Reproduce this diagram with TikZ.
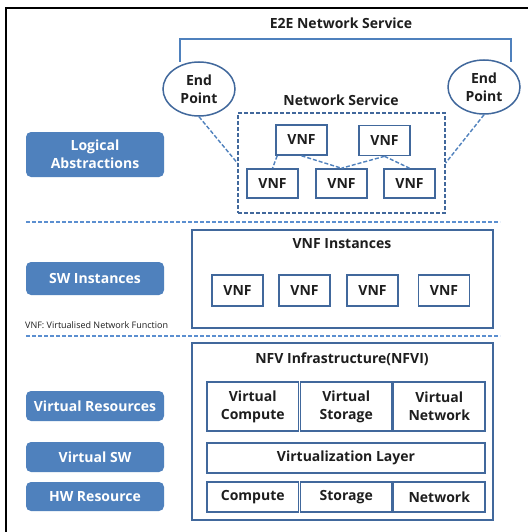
\documentclass[tikz,border=0pt]{standalone}
\usepackage{fontspec}
\setmainfont{Open Sans}
\usetikzlibrary{shapes.geometric}
\definecolor{boxline}{HTML}{41689C}
\definecolor{dashblue}{HTML}{4F81BD}
\definecolor{tagfill}{HTML}{4F81BD}
\definecolor{sepblue}{HTML}{5B8FD0}
\definecolor{inktext}{HTML}{1E1E1E}
\begin{document}
\begin{tikzpicture}[x=1pt,y=-1pt,
  lbl/.style={font=\bfseries\fontsize{14}{18}\selectfont, text=inktext, align=center},
  tag/.style={fill=tagfill, rounded corners=5pt, minimum width=138pt, inner sep=0pt,
    text=white, font=\bfseries\fontsize{14}{18}\selectfont, align=center},
  frame/.style={draw=boxline, line width=1.6pt, inner sep=0pt},
  vnfbox/.style={frame, lbl, minimum width=51pt, minimum height=30pt},
  cell/.style={frame, lbl, minimum width=91.5pt, minimum height=30pt},
  endpt/.style={ellipse, draw=boxline, line width=1.5pt, minimum width=72pt,
    minimum height=54pt, inner sep=0pt, lbl},
  dlink/.style={draw=dashblue, line width=1.4pt, dash pattern=on 4pt off 2pt},
  sepline/.style={draw=sepblue, line width=1.5pt, dash pattern=on 4pt off 2pt},
]
\useasboundingbox (0,0) rectangle (528,532);
\fill[white] (0,0) rectangle (528,532);

% outer page frame
\draw[line width=1.5pt, black] (6,532) -- (6,8) -- (528,8);

% ---------- logical abstractions ----------
\node[lbl] (e2e) at (341,23) {E2E Network Service};
\coordinate (brL) at (180,62);
\coordinate (brR) at (511,62);
\draw[draw=dashblue, line width=1.5pt] (brL) -- (brL |- 0,39) -- (brR |- 0,39) -- (brR);

\node[endpt] (lep) at (199,89) {End\\Point};
\node[endpt] (rep) at (484,87) {End\\Point};

\node[lbl] (nstitle) at (341,100) {Network Service};
\node[draw=boxline, line width=1.3pt, dash pattern=on 4pt off 2pt,
      minimum width=207pt, minimum height=100pt, inner sep=0pt] (ns) at (341.5,163) {};

\node[vnfbox] (tl) at (301.5,140) {VNF};
\node[vnfbox] (tr) at (384.5,140.5) {VNF};
\node[vnfbox, minimum height=29pt] (b1) at (272.5,183.5) {VNF};
\node[vnfbox, minimum height=29pt] (b2) at (341.5,183.5) {VNF};
\node[vnfbox, minimum height=29pt] (b3) at (409.5,183.5) {VNF};

\draw[dlink] (lep.south) -- (ns.west);
\draw[dlink] (rep.south) -- (ns.east);
\draw[dlink] (tl.south west) ++(2pt,0) -- (b1.north);
\draw[dlink] (tl.south) -- (b2.north);
\draw[dlink] (tr.south) -- (b2.north);
\draw[dlink] (tr.south) -- (b3.north);

\node[tag, minimum height=45pt] (tla) at (95,154.5) {Logical\\Abstractions};

% layer separators
\coordinate (s1a) at (26,222);  \coordinate (s1b) at (500,222);
\coordinate (s2a) at (26,336);  \coordinate (s2b) at (500,336);
\draw[sepline] (s1a) -- (s1b);
\draw[sepline] (s2a) -- (s2b);

% ---------- software instances ----------
\node[tag, minimum height=33pt] (tsw) at (95,278.5) {SW Instances};
\node[frame, minimum width=301pt, minimum height=98pt] (inst) at (342.5,279) {};
\node[lbl] (insttitle) at (342,244) {VNF Instances};
\node[vnfbox, minimum height=31pt] (i1) at (237.5,290.5) {VNF};
\node[vnfbox, minimum height=31pt] (i2) at (304.5,290.5) {VNF};
\node[vnfbox, minimum height=31pt] (i3) at (372.5,290.5) {VNF};
\node[vnfbox, minimum height=31pt] (i4) at (444,290.5) {VNF};
\node[anchor=west, inner sep=0pt, text=inktext, font=\fontsize{9}{11}\selectfont]
  (note) at (25,325) {VNF: Virtualised Network Function};

% ---------- infrastructure ----------
\node[tag, minimum height=30pt] (tvr) at (95,406) {Virtual Resources};
\node[tag, minimum height=30pt] (tvs) at (95,457) {Virtual SW};
\node[tag, minimum height=29pt] (thw) at (95,496.5) {HW Resource};

\node[frame, minimum width=301pt, minimum height=177pt] (nfvi) at (342.5,431.5) {};
\node[lbl] (nfvititle) at (342,359) {NFV Infrastructure(NFVI)};

\node[cell, minimum height=49pt] (vc) at (252.75,406.5) {Virtual\\Compute};
\node[cell, minimum height=49pt] (vs) at (346.25,406.5) {Virtual\\Storage};
\node[cell, minimum height=49pt] (vn) at (439.25,406.5) {Virtual\\Network};
\node[frame, lbl, minimum width=278pt, minimum height=30pt] (vl) at (346,458) {Virtualization Layer};
\node[cell] (hc) at (252.75,497) {Compute};
\node[cell] (hs) at (346.25,497) {Storage};
\node[cell] (hn) at (439.25,497) {Network};
\end{tikzpicture}
\end{document}
